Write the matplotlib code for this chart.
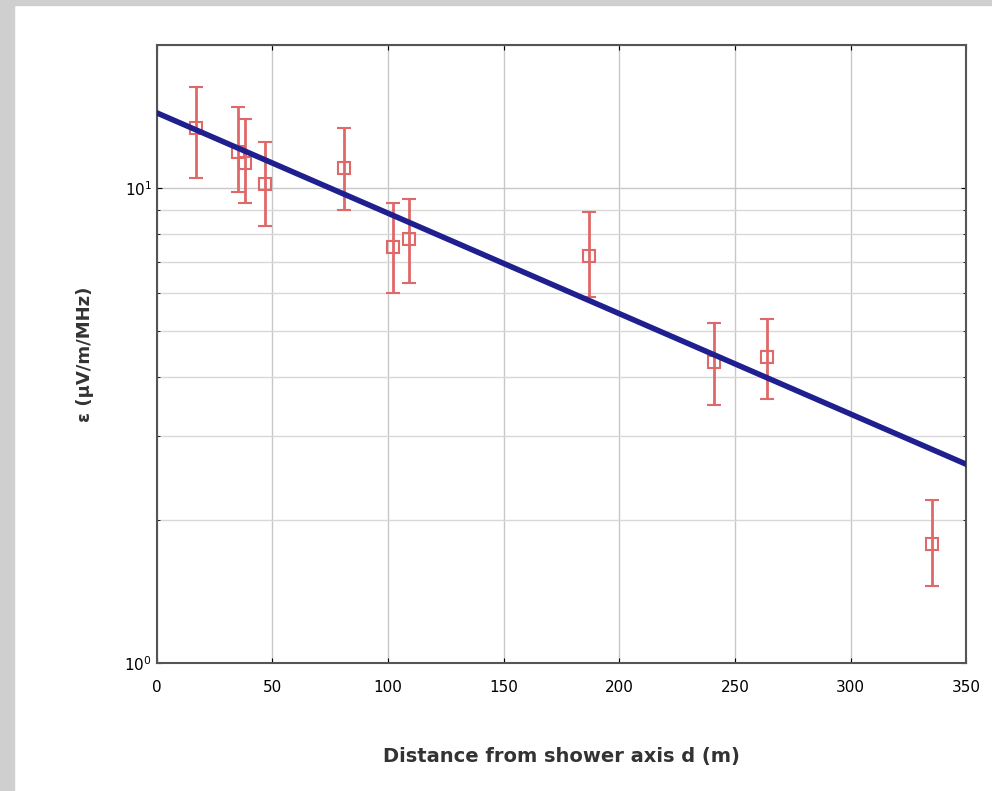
import matplotlib.pyplot as plt
from matplotlib.patches import Rectangle

# measured points (distance in m, field strength, error bar low/high)
dist = [17, 35, 38, 47, 81, 102, 109, 187, 241, 264, 335]
eps = [13.4, 11.9, 11.3, 10.2, 11.0, 7.5, 7.8, 7.2, 4.3, 4.4, 1.78]
err_lo = [10.5, 9.8, 9.3, 8.3, 9.0, 6.0, 6.3, 5.9, 3.5, 3.6, 1.45]
err_hi = [16.3, 14.8, 14.0, 12.5, 13.4, 9.3, 9.5, 8.9, 5.2, 5.3, 2.2]

# exponential fit, end points
fit_d = [0, 350]
fit_eps = [14.4, 2.62]

fig = plt.figure(figsize=(9.92, 7.91), dpi=100)
# grey frame of the original screenshot
fig.patches.append(Rectangle((0, 0), 14 / 992, 1, transform=fig.transFigure,
                             color='#cfcfcf', zorder=-1))
fig.patches.append(Rectangle((0, 1 - 5 / 791), 1, 5 / 791, transform=fig.transFigure,
                             color='#cfcfcf', zorder=-1))

ax = fig.add_axes([0.158, 0.162, 0.816, 0.781])

yerr = [[e - l for e, l in zip(eps, err_lo)], [h - e for e, h in zip(eps, err_hi)]]
ax.errorbar(dist, eps, yerr=yerr, fmt='s', mfc='none', mec='#e06868', mew=1.5, ms=9,
            ecolor='#e06868', elinewidth=2, capsize=5, capthick=1.5, zorder=3)
ax.plot(fit_d, fit_eps, color='#1f1f8f', lw=4, zorder=4)

ax.set_yscale('log')
ax.set_xlim(0, 350)
ax.set_ylim(1, 20)
ax.set_xticks(range(0, 351, 50))
ax.grid(True, which='major', color='#c8c8c8', lw=1)
ax.grid(True, which='minor', axis='y', color='#d8d8d8', lw=1)
ax.tick_params(which='both', direction='in', top=True, right=True, labelsize=11)
ax.tick_params(axis='x', pad=12)
for s in ax.spines.values():
    s.set_color('#555555')
    s.set_linewidth(1.5)

ax.set_xlabel('Distance from shower axis d (m)', fontsize=14, fontweight='bold',
              labelpad=38, color='#333333')
ax.set_ylabel('ε (μV/m/MHz)', fontsize=13, fontweight='bold', labelpad=22,
              color='#333333')

fig.savefig('out.png', dpi=100)
